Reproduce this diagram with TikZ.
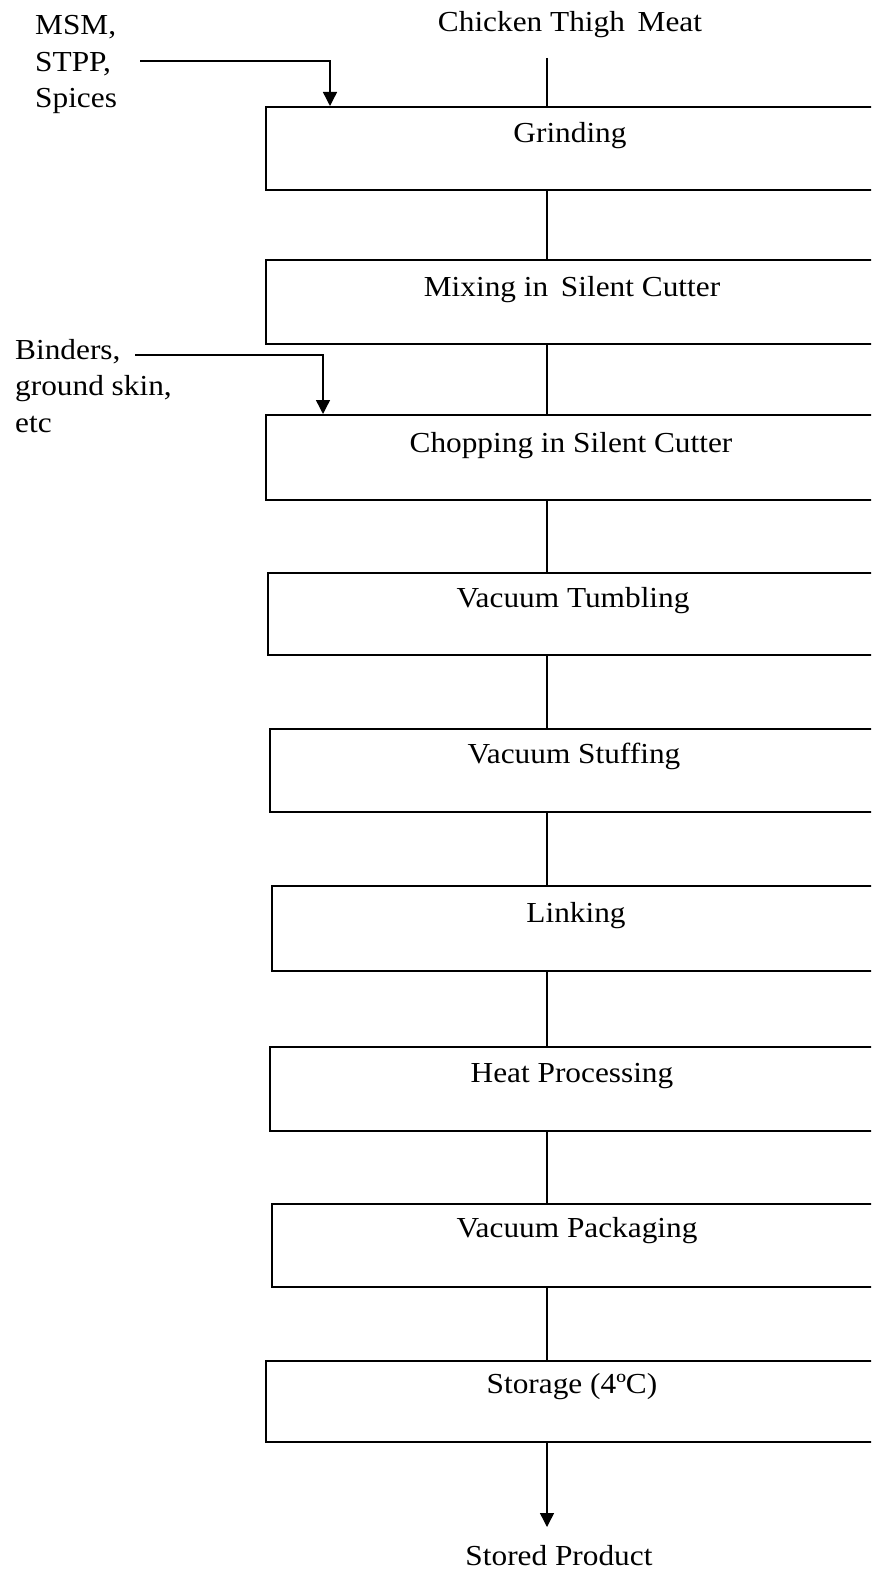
\documentclass[tikz,border=0pt]{standalone}
\usepackage{fontspec}
\setmainfont{Liberation Serif}[FakeStretch=1.08]
\usetikzlibrary{arrows.meta}
\begin{document}
\begin{tikzpicture}[x=1pt,y=-1pt,
  every node/.style={font=\fontsize{29}{36.5}\selectfont, inner sep=0pt},
  lbl/.style={anchor=base},
  stepbox/.style={draw, line width=1.8pt, minimum width=640pt, anchor=north west},
  conn/.style={line width=1.4pt},
  arr/.style={line width=1.4pt, -{Triangle[length=14pt,width=14pt]}}]
\useasboundingbox (0,0) rectangle (871,1570);
\fill[white] (0,0) rectangle (871,1570);
\clip (0,0) rectangle (871,1570);
\coordinate (axis) at (547,0);
\coordinate (in1) at (330,0);
\coordinate (in2) at (323,0);
% input texts
\node[lbl] (meat) at (570,32) {Chicken Thigh\, Meat};
\node[align=left, anchor=base west] (msm) at (35,108) {MSM,\\STPP,\\Spices};
\node[align=left, anchor=base west] (bind) at (15,432) {Binders,\\ground skin,\\etc};
% boxes
\node[stepbox, minimum height=83pt] (b1) at (265,106) {};
\node[stepbox, minimum height=84pt] (b2) at (265,259) {};
\node[stepbox, minimum height=85pt] (b3) at (265,414) {};
\node[stepbox, minimum height=82pt] (b4) at (267,572) {};
\node[stepbox, minimum height=83pt] (b5) at (269,728) {};
\node[stepbox, minimum height=85pt] (b6) at (271,885) {};
\node[stepbox, minimum height=84pt] (b7) at (269,1046) {};
\node[stepbox, minimum height=83pt] (b8) at (271,1203) {};
\node[stepbox, minimum height=81pt] (b9) at (265,1360) {};
\node[lbl] (t1) at (570,143) {Grinding};
\node[lbl] (t2) at (572,296) {Mixing in\, Silent Cutter};
\node[lbl] (t3) at (571,452) {Chopping in Silent Cutter};
\node[lbl] (t4) at (573,607) {Vacuum Tumbling};
\node[lbl] (t5) at (574,763) {Vacuum Stuffing};
\node[lbl] (t6) at (576,922) {Linking};
\node[lbl] (t7) at (572,1082) {Heat Processing};
\node[lbl] (t8) at (577,1237) {Vacuum Packaging};
\node[lbl] (t9) at (572,1393) {Storage (4ºC)};
\node[lbl] (out) at (559,1565) {Stored Product};
% connectors
\coordinate (s0) at (547,58);
\coordinate (tip) at (547,1527);
\draw[conn] (s0) -- (b1.north -| axis);
\draw[conn] (b1.south -| axis) -- (b2.north -| axis);
\draw[conn] (b2.south -| axis) -- (b3.north -| axis);
\draw[conn] (b3.south -| axis) -- (b4.north -| axis);
\draw[conn] (b4.south -| axis) -- (b5.north -| axis);
\draw[conn] (b5.south -| axis) -- (b6.north -| axis);
\draw[conn] (b6.south -| axis) -- (b7.north -| axis);
\draw[conn] (b7.south -| axis) -- (b8.north -| axis);
\draw[conn] (b8.south -| axis) -- (b9.north -| axis);
\draw[arr] (b9.south -| axis) -- (tip);
\coordinate (a1) at (140,61);
\coordinate (a2) at (135,355);
\draw[arr] (a1) -| (b1.north -| in1);
\draw[arr] (a2) -| (b3.north -| in2);
\end{tikzpicture}
\end{document}
